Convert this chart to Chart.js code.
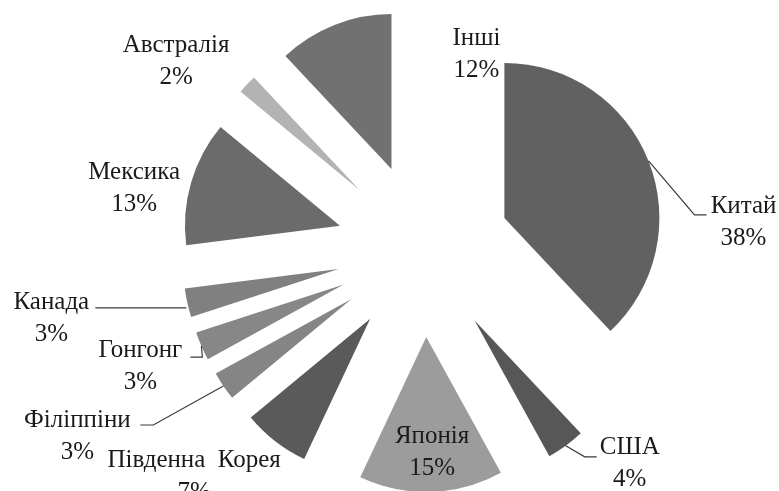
<!DOCTYPE html>
<html>
<head>
<meta charset="utf-8">
<script src="https://cdn.jsdelivr.net/npm/chart.js@4/dist/chart.umd.min.js"></script>
<style>
  html, body { margin: 0; padding: 0; background: #ffffff; }
  #wrap { width: 779px; height: 491px; position: relative; }
</style>
</head>
<body>
<div id="wrap"><canvas id="c"></canvas></div>
<script>
// ---- data ----
const categories = ['Китай', 'США', 'Японія', 'Південна  Корея', 'Філіппіни', 'Гонгонг', 'Канада', 'Мексика', 'Австралія', 'Інші'];
const shares = [38, 4, 15, 7, 3, 3, 3, 13, 2, 12];
const shareLabels = ['38%', '4%', '15%', '7%', '3%', '3%', '3%', '13%', '2%', '12%'];

// ---- style ----
const sliceColors = ['#616161', '#575757', '#9c9c9c', '#5a5a5a', '#858585', '#878787', '#808080', '#6b6b6b', '#b3b3b3', '#717171'];
const EXPLODE = 87;      // px each slice is pulled out from the centre
const RADIUS = 155;
const FONT = '25px "Liberation Serif", "Times New Roman", serif';
const LINE_GAP = 32;
// label placement relative to the outer midpoint of each slice: [dx, dy] of first-line centre
const labelOffsets = [[95, 46], [64, 2], [1, -55], [-81, 19], [-146, 34], [-61, 4], [-136, 0], [-57, -10], [-71, -39], [142, 13]];
// leader lines (relative to outer midpoint); null = none
const leaders = [
  [[0, 0], [46, 54], [58, 54]],
  [[0, 0], [19, 11], [31, 11]],
  null,
  null,
  [[0, 0], [-70, 39], [-83, 39]],
  [[0, 0], [1, 11], [-11, 11]],
  [[-1, 5], [-92, 5]],
  null,
  null,
  null
];

const explodePlugin = {
  id: 'explode',
  afterDatasetUpdate(chart, args) {
    const meta = args.meta;
    const area = chart.chartArea;
    const ctrl = meta.controller;
    const cx = (area.left + area.right) / 2 + (ctrl.offsetX || 0);
    const cy = (area.top + area.bottom) / 2 + (ctrl.offsetY || 0);
    meta.data.forEach(arc => {
      const mid = (arc.startAngle + arc.endAngle) / 2;
      arc.x = cx + Math.cos(mid) * EXPLODE;
      arc.y = cy + Math.sin(mid) * EXPLODE;
    });
  }
};

const labelPlugin = {
  id: 'sliceLabels',
  afterDraw(chart) {
    const ctx = chart.ctx;
    const meta = chart.getDatasetMeta(0);
    ctx.save();
    meta.data.forEach((arc, i) => {
      const mid = (arc.startAngle + arc.endAngle) / 2;
      const ox = arc.x + Math.cos(mid) * arc.outerRadius;
      const oy = arc.y + Math.sin(mid) * arc.outerRadius;
      const ld = leaders[i];
      if (ld) {
        ctx.beginPath();
        ctx.strokeStyle = '#3a3a3a';
        ctx.lineWidth = 1.2;
        ld.forEach((p, k) => {
          const x = ox + p[0], y = oy + p[1];
          if (k === 0) ctx.moveTo(x, y); else ctx.lineTo(x, y);
        });
        ctx.stroke();
      }
      const lx = ox + labelOffsets[i][0];
      const ly = oy + labelOffsets[i][1];
      ctx.fillStyle = '#1a1a1a';
      ctx.font = FONT;
      ctx.textAlign = 'center';
      ctx.textBaseline = 'middle';
      ctx.fillText(categories[i], lx, ly);
      ctx.fillText(shareLabels[i], lx, ly + LINE_GAP);
    });
    ctx.restore();
  }
};

new Chart(document.getElementById('c'), {
  type: 'pie',
  data: {
    labels: categories,
    datasets: [{
      data: shares,
      backgroundColor: sliceColors,
      borderWidth: 0
    }]
  },
  options: {
    responsive: true,
    maintainAspectRatio: false,
    animation: false,
    radius: RADIUS,
    layout: { padding: { left: 68, right: 0, top: 9, bottom: 0 } },
    plugins: {
      legend: { display: false },
      tooltip: { enabled: false }
    },
    events: []
  },
  plugins: [explodePlugin, labelPlugin]
});
</script>
</body>
</html>
